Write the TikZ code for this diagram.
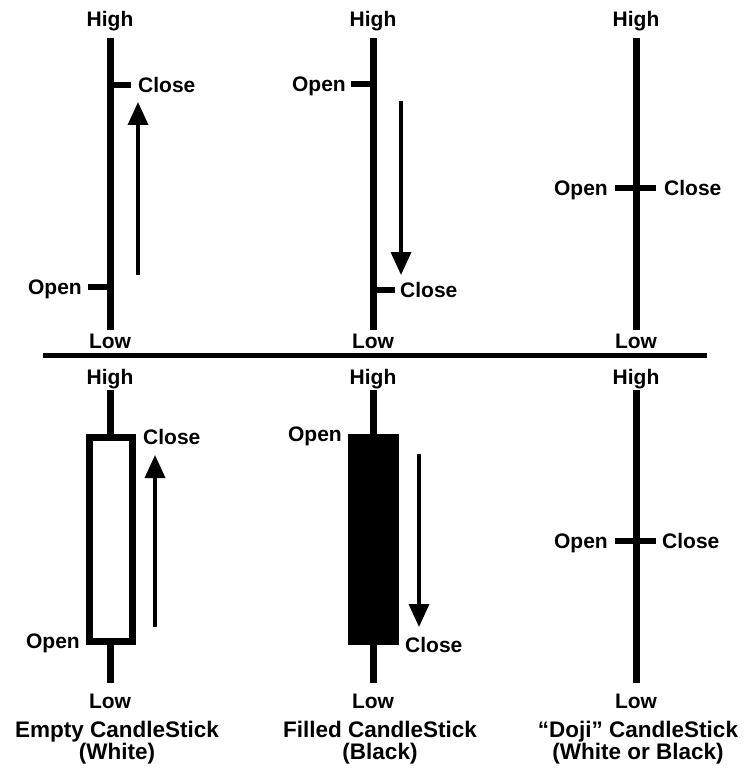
\documentclass[tikz,border=0pt]{standalone}
\usepackage{fontspec}
\setmainfont{Liberation Sans}
\usetikzlibrary{arrows.meta, positioning}
\tikzstyle{lbl} = [font=\fontsize{21}{21}\selectfont\bfseries, inner sep=0pt, text height=15pt, text depth=0pt]
\tikzstyle{caption} = [font=\fontsize{22.5}{22}\selectfont\bfseries, inner sep=0pt, align=center]
\tikzstyle{wick} = [line width=7pt]
\tikzstyle{tick} = [line width=6pt]
\tikzstyle{body} = [line width=7pt]
\tikzstyle{arrow} = [line width=3.5pt, -{Triangle[length=23pt,width=20pt]}]
\tikzstyle{divider} = [line width=5pt]
\begin{document}
\begin{tikzpicture}[x=1pt, y=-1pt]
		\useasboundingbox (0,0) rectangle (745,770);
		% top row: the three sticks
		\coordinate (aHigh) at (110,38);
		\coordinate (aLow) at (110,330);
		\coordinate (aClose) at (131,85);
		\coordinate (aOpen) at (88,287);
		\coordinate (aFrom) at (138,275);
		\coordinate (aTo) at (138,102);
		\coordinate (bHigh) at (373,38);
		\coordinate (bLow) at (373,330);
		\coordinate (bOpen) at (351,84);
		\coordinate (bClose) at (395,290);
		\coordinate (bFrom) at (401,101);
		\coordinate (bTo) at (401,275);
		\coordinate (cHigh) at (636,38);
		\coordinate (cLow) at (636,330);
		\coordinate (cOpen) at (615,188);
		\coordinate (cClose) at (656,188);
		
		\node (aHighLbl) [lbl, above = 11pt of aHigh] {High};
		\node (aLowLbl) [lbl, below = 3pt of aLow] {Low};
		\node (aCloseLbl) [lbl, right = 7pt of aClose] {Close};
		\node (aOpenLbl) [lbl, left = 6pt of aOpen] {Open};
		\node (bHighLbl) [lbl, above = 11pt of bHigh] {High};
		\node (bLowLbl) [lbl, below = 3pt of bLow] {Low};
		\node (bOpenLbl) [lbl, left = 5pt of bOpen] {Open};
		\node (bCloseLbl) [lbl, right = 5pt of bClose] {Close};
		\node (cHighLbl) [lbl, above = 11pt of cHigh] {High};
		\node (cLowLbl) [lbl, below = 3pt of cLow] {Low};
		\node (cOpenLbl) [lbl, left = 7pt of cOpen] {Open};
		\node (cCloseLbl) [lbl, right = 8pt of cClose] {Close};
		
		\draw [wick] (aHigh) -- (aLow);
		\draw [tick] (aClose) -- (aClose -| aHigh);
		\draw [tick] (aOpen) -- (aOpen -| aHigh);
		\draw [arrow] (aFrom) -- (aTo);
		\draw [wick] (bHigh) -- (bLow);
		\draw [tick] (bOpen) -- (bOpen -| bHigh);
		\draw [tick] (bClose) -- (bClose -| bHigh);
		\draw [arrow] (bFrom) -- (bTo);
		\draw [wick] (cHigh) -- (cLow);
		\draw [tick] (cOpen) -- (cClose);
		
		\coordinate (divL) at (43,355);
		\coordinate (divR) at (707,355);
		\draw [divider] (divL) -- (divR);
		
		% bottom row: the three candles
		\coordinate (eHigh) at (110,390);
		\coordinate (eLow) at (110,683);
		\coordinate (eClose) at (132,437);
		\coordinate (eOpen) at (89,641);
		\coordinate (eFrom) at (155,627);
		\coordinate (eTo) at (155,455);
		\coordinate (fHigh) at (373,390);
		\coordinate (fLow) at (373,683);
		\coordinate (fOpen) at (348,434);
		\coordinate (fClose) at (399,645);
		\coordinate (fFrom) at (419,454);
		\coordinate (fTo) at (419,627);
		\coordinate (dHigh) at (636,390);
		\coordinate (dLow) at (636,683);
		\coordinate (dOpen) at (615,541);
		\coordinate (dClose) at (656,541);
		
		\node (eHighLbl) [lbl, above = 5pt of eHigh] {High};
		\node (eLowLbl) [lbl, below = 10pt of eLow] {Low};
		\node (eCloseLbl) [lbl, right = 11pt of eClose] {Close};
		\node (eOpenLbl) [lbl, left = 9pt of eOpen] {Open};
		\node (fHighLbl) [lbl, above = 5pt of fHigh] {High};
		\node (fLowLbl) [lbl, below = 10pt of fLow] {Low};
		\node (fOpenLbl) [lbl, left = 6pt of fOpen] {Open};
		\node (fCloseLbl) [lbl, right = 6pt of fClose] {Close};
		\node (dHighLbl) [lbl, above = 5pt of dHigh] {High};
		\node (dLowLbl) [lbl, below = 10pt of dLow] {Low};
		\node (dOpenLbl) [lbl, left = 7pt of dOpen] {Open};
		\node (dCloseLbl) [lbl, right = 6pt of dClose] {Close};
		
		\draw [wick] (eHigh) -- (eLow);
		\draw [body, fill=white] (eOpen) rectangle (eClose);
		\draw [arrow] (eFrom) -- (eTo);
		\draw [wick] (fHigh) -- (fLow);
		\fill (fOpen) rectangle (fClose);
		\draw [arrow] (fFrom) -- (fTo);
		\draw [wick] (dHigh) -- (dLow);
		\draw [tick] (dOpen) -- (dClose);
		
		\node (EmptyCap) [caption] at (117,743) {Empty CandleStick\\(White)};
		\node (FilledCap) [caption] at (380,743) {Filled CandleStick\\(Black)};
		\node (DojiCap) [caption] at (638,743) {“Doji” CandleStick\\(White or Black)};
		\end{tikzpicture}
\end{document}
